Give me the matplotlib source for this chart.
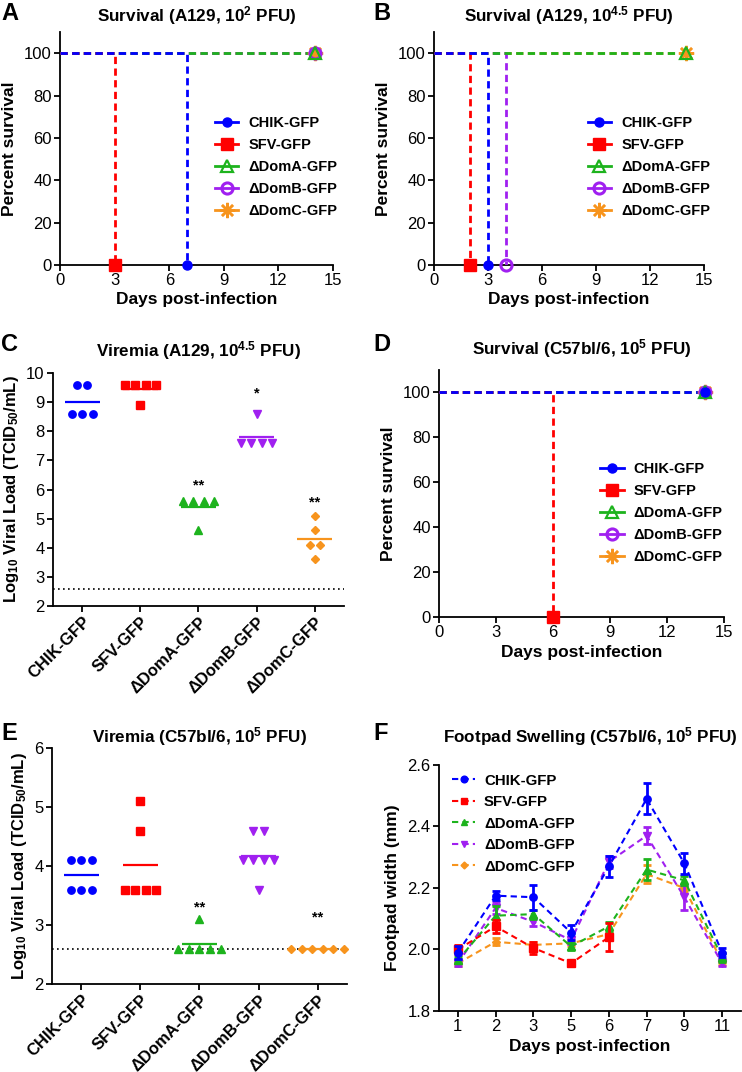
import numpy as np
import matplotlib.pyplot as plt
from matplotlib.lines import Line2D

plt.rcParams["font.family"] = ["Liberation Sans", "DejaVu Sans"]
plt.rcParams["mathtext.fontset"] = "custom"
plt.rcParams["mathtext.rm"] = "Liberation Sans"
plt.rcParams["mathtext.bf"] = "Liberation Sans:bold"
plt.rcParams["mathtext.it"] = "Liberation Sans:italic"

GROUPS = ["CHIK-GFP", "SFV-GFP", "ΔDomA-GFP", "ΔDomB-GFP", "ΔDomC-GFP"]
COLORS = ["#0000FF", "#FF0000", "#1DB31D", "#A020F0", "#F7941D"]

# ---------------------------------------------------------------------------
# Data
# ---------------------------------------------------------------------------

# survival: day on which the whole group died (None = survived to study end)
STUDY_END = 14
DEATH_A = [7, 3, None, None, None]
DEATH_B = [3, 2, None, 4, None]
DEATH_D = [None, 6, None, None, None]

# viremia, log10 TCID50/mL
VIR_C_CHIK = [9.6, 9.6, 8.6, 8.6, 8.6]
VIR_C_SFV = [9.6, 9.6, 9.6, 9.6, 8.9]
VIR_C_DOMA = [5.6, 5.6, 5.6, 5.6, 4.6]
VIR_C_DOMB = [8.6, 7.6, 7.6, 7.6, 7.6]
VIR_C_DOMC = [5.1, 4.6, 4.1, 4.1, 3.6]
SIG_C = ["", "", "**", "*", "**"]
SIG_C_Y = [0, 0, 6.15, 9.3, 5.55]

VIR_E_CHIK = [4.1, 4.1, 4.1, 3.6, 3.6, 3.6]
VIR_E_SFV = [5.1, 4.6, 3.6, 3.6, 3.6, 3.6]
VIR_E_DOMA = [3.1, 2.6, 2.6, 2.6, 2.6, 2.6]
VIR_E_DOMB = [4.6, 4.6, 4.1, 4.1, 4.1, 4.1, 3.6]
VIR_E_DOMC = [2.6, 2.6, 2.6, 2.6, 2.6, 2.6]
SIG_E = ["", "", "**", "", "**"]
SIG_E_Y = [0, 0, 3.3, 0, 3.12]

DETECTION_LIMIT = 2.6

# footpad swelling, mm (mean +/- SEM)
DAYS_F = [1, 2, 3, 5, 6, 7, 9, 11]
CHIK_F = [1.99, 2.175, 2.17, 2.055, 2.27, 2.49, 2.28, 1.99]
CHIK_F_ERR = [0.02, 0.015, 0.04, 0.025, 0.035, 0.05, 0.035, 0.015]
SFV_F = [2.00, 2.075, 2.005, 1.955, 2.04]
SFV_F_ERR = [0.015, 0.02, 0.02, 0.008, 0.045]
DOMA_F = [1.965, 2.11, 2.115, 2.01, 2.075, 2.26, 2.225, 1.975]
DOMA_F_ERR = [0.01, 0.03, 0.015, 0.012, 0.015, 0.033, 0.015, 0.015]
DOMB_F = [1.955, 2.135, 2.09, 2.03, 2.285, 2.37, 2.17, 1.955]
DOMB_F_ERR = [0.01, 0.02, 0.012, 0.012, 0.02, 0.028, 0.04, 0.008]
DOMC_F = [1.955, 2.025, 2.015, 2.02, 2.05, 2.245, 2.2, 1.96]
DOMC_F_ERR = [0.008, 0.012, 0.01, 0.01, 0.01, 0.03, 0.01, 0.01]

# ---------------------------------------------------------------------------
# Styles
# ---------------------------------------------------------------------------

SURV_MARKERS = [
    dict(marker="o", ms=6.5, mfc=COLORS[0], mec=COLORS[0]),
    dict(marker="s", ms=8, mfc=COLORS[1], mec=COLORS[1]),
    dict(marker="^", ms=8, mfc="none", mec=COLORS[2], mew=1.6),
    dict(marker="o", ms=8, mfc="none", mec=COLORS[3], mew=2.2),
    dict(marker=(8, 2, 0), ms=11, mfc=COLORS[4], mec=COLORS[4], mew=1.8),
]
DOT_MARKERS = [("o", 5.3), ("s", 5.3), ("^", 5.5), ("v", 5.5), ("D", 4.0)]
TICK_FS = 12
LABEL_FS = 12.5
TITLE_FS = 12.3
DASH = (0, (2.6, 1.6))


def style_axes(ax):
    for side in ["top", "right"]:
        ax.spines[side].set_visible(False)
    for side in ["left", "bottom"]:
        ax.spines[side].set_linewidth(1.3)
    ax.tick_params(direction="out", length=4, width=1.3, labelsize=TICK_FS, pad=2)


def panel_letter(fig, x_px, y_px, letter):
    fig.text(x_px / 742, 1 - y_px / 1072, letter, fontsize=17, fontweight="bold",
             ha="left", va="top")


def survival_panel(ax, deaths, title, title_pad=8):
    for i in [4, 3, 2, 1, 0]:
        d = deaths[i]
        if d is None:
            xs, ys = [0, STUDY_END], [100, 100]
        else:
            xs, ys = [0, d, d], [100, 100, 0]
        ax.plot(xs, ys, color=COLORS[i], lw=2, ls=DASH, zorder=2 + 5 - i)
        ax.plot(xs[-1], ys[-1], ls="none", clip_on=False, zorder=10 + 5 - i,
                **SURV_MARKERS[i])
    ax.set_xlim(0, 15)
    ax.set_ylim(0, 110)
    ax.set_xticks(range(0, 16, 3))
    ax.set_yticks(range(0, 101, 20))
    ax.set_xlabel("Days post-infection", fontsize=LABEL_FS, fontweight="bold", labelpad=3)
    ax.set_ylabel("Percent survival", fontsize=LABEL_FS, fontweight="bold", labelpad=5)
    ax.set_title(title, fontsize=TITLE_FS, fontweight="bold", pad=title_pad)
    style_axes(ax)
    handles = [Line2D([], [], color=COLORS[i], lw=2, **SURV_MARKERS[i]) for i in range(5)]
    ax.legend(handles, GROUPS, loc="center left", bbox_to_anchor=(0.52, 0.42),
              frameon=False, handlelength=1.6, handletextpad=0.7, labelspacing=0.55,
              prop={"weight": "bold", "size": 10.5})


def spread(values, step=0.18):
    values = np.asarray(values)
    offsets = np.zeros(len(values))
    for v in np.unique(values):
        idx = np.where(values == v)[0]
        offsets[idx] = (np.arange(len(idx)) - (len(idx) - 1) / 2) * step
    return offsets


def viremia_panel(ax, groups_vals, sig, sig_y, ylim, title, title_pad):
    for i, vals in enumerate(groups_vals):
        xs = i + spread(vals)
        m, ms = DOT_MARKERS[i]
        ax.plot(xs, vals, ls="none", marker=m, ms=ms, color=COLORS[i], mec=COLORS[i],
                clip_on=False, zorder=3)
        ax.hlines(np.mean(vals), i - 0.3, i + 0.3, color=COLORS[i], lw=1.6, zorder=2)
        if sig[i]:
            ax.text(i, sig_y[i], sig[i], ha="center", va="center", fontsize=10.5,
                    fontweight="bold")
    ax.axhline(DETECTION_LIMIT, color="black", lw=1.2, ls=(0, (1, 2)), zorder=1)
    ax.set_xlim(-0.5, 4.5)
    ax.set_ylim(*ylim)
    ax.set_yticks(range(ylim[0], ylim[1] + 1))
    ax.set_xticks(range(5))
    ax.set_xticklabels(GROUPS, rotation=45, ha="right", va="top", rotation_mode="anchor",
                       fontsize=10.8, fontweight="bold")
    ax.set_ylabel(r"Log$_{\mathbf{10}}$ Viral Load (TCID$_{\mathbf{50}}$/mL)",
                  fontsize=12, fontweight="bold", labelpad=4)
    ax.set_title(title, fontsize=TITLE_FS, fontweight="bold", pad=title_pad)
    style_axes(ax)


fig = plt.figure(figsize=(7.42, 10.72), dpi=100)

# A
axA = fig.add_axes([0.0809, 0.7528, 0.368, 0.2173])
survival_panel(axA, DEATH_A, r"Survival (A129, 10$^{\mathbf{2}}$ PFU)")
panel_letter(fig, 1, 2, "A")

# B
axB = fig.add_axes([0.585, 0.7528, 0.364, 0.2173])
survival_panel(axB, DEATH_B, r"Survival (A129, 10$^{\mathbf{4.5}}$ PFU)")
panel_letter(fig, 373, 2, "B")

# C
axC = fig.add_axes([0.0714, 0.4347, 0.3922, 0.2173])
viremia_panel(axC, [VIR_C_CHIK, VIR_C_SFV, VIR_C_DOMA, VIR_C_DOMB, VIR_C_DOMC],
              SIG_C, SIG_C_Y, (2, 10), r"Viremia (A129, 10$^{\mathbf{4.5}}$ PFU)", 12)
panel_letter(fig, 1, 333, "C")

# D
axD = fig.add_axes([0.5916, 0.4244, 0.3841, 0.2305])
survival_panel(axD, DEATH_D, r"Survival (C57bl/6, 10$^{\mathbf{5}}$ PFU)", title_pad=11)
panel_letter(fig, 373, 333, "D")

# E
axE = fig.add_axes([0.070, 0.0821, 0.3977, 0.2201])
viremia_panel(axE, [VIR_E_CHIK, VIR_E_SFV, VIR_E_DOMA, VIR_E_DOMB, VIR_E_DOMC],
              SIG_E, SIG_E_Y, (2, 6), r"Viremia (C57bl/6, 10$^{\mathbf{5}}$ PFU)", 4)
panel_letter(fig, 1, 722, "E")

# F
axF = fig.add_axes([0.5916, 0.0569, 0.407, 0.2295])
series_f = [(CHIK_F, CHIK_F_ERR), (SFV_F, SFV_F_ERR), (DOMA_F, DOMA_F_ERR),
            (DOMB_F, DOMB_F_ERR), (DOMC_F, DOMC_F_ERR)]
f_handles = [None] * 5
for i in [4, 3, 2, 1, 0]:
    vals, err = series_f[i]
    xs = np.arange(len(vals))
    m, ms = DOT_MARKERS[i]
    axF.errorbar(xs, vals, yerr=err, color=COLORS[i], ls=(0, (3, 2)), lw=1.5,
                 marker=m, ms=ms, elinewidth=2, capsize=3, capthick=2,
                 zorder=3 + 5 - i)
    f_handles[i] = Line2D([], [], color=COLORS[i], ls=(0, (3, 2)), lw=1.5,
                          marker=m, ms=ms - 0.5)
axF.set_xlim(-0.5, 7.5)
axF.set_ylim(1.8, 2.6)
axF.set_xticks(range(len(DAYS_F)))
axF.set_xticklabels([str(d) for d in DAYS_F])
axF.set_yticks(np.arange(1.8, 2.61, 0.2))
axF.set_yticklabels([f"{v:.1f}" for v in np.arange(1.8, 2.61, 0.2)])
axF.set_xlabel("Days post-infection", fontsize=LABEL_FS, fontweight="bold", labelpad=3)
axF.set_ylabel("Footpad width (mm)", fontsize=LABEL_FS, fontweight="bold", labelpad=5)
axF.set_title(r"Footpad Swelling (C57bl/6, 10$^{\mathbf{5}}$ PFU)", fontsize=TITLE_FS,
              fontweight="bold", pad=16)
style_axes(axF)
axF.legend(f_handles, GROUPS, loc="upper left", bbox_to_anchor=(0.0, 1.02), frameon=False,
           handlelength=1.5, handletextpad=0.6, labelspacing=0.5,
           prop={"weight": "bold", "size": 10.8})
panel_letter(fig, 373, 722, "F")

fig.savefig("out.png", dpi=100)
